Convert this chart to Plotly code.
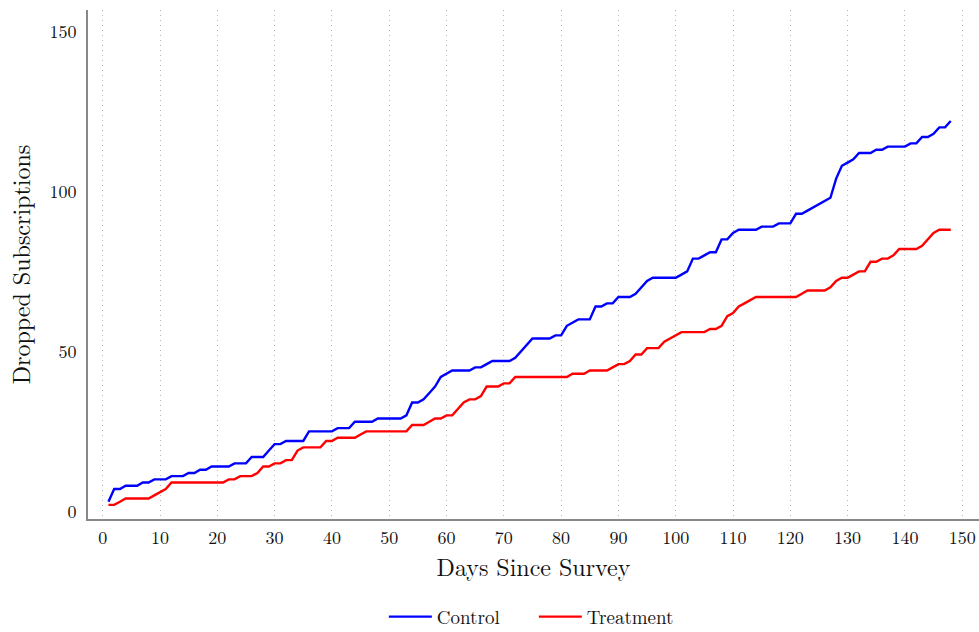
import plotly.graph_objects as go

# Cumulative dropped subscriptions per day after the survey
days = list(range(1, 149))

control = [
    3, 7, 7, 8, 8, 8, 9, 9, 10, 10,
    10, 11, 11, 11, 12, 12, 13, 13, 14, 14,
    14, 14, 15, 15, 15, 17, 17, 17, 19, 21,
    21, 22, 22, 22, 22, 25, 25, 25, 25, 25,
    26, 26, 26, 28, 28, 28, 28, 29, 29, 29,
    29, 29, 30, 34, 34, 35, 37, 39, 42, 43,
    44, 44, 44, 44, 45, 45, 46, 47, 47, 47,
    47, 48, 50, 52, 54, 54, 54, 54, 55, 55,
    58, 59, 60, 60, 60, 64, 64, 65, 65, 67,
    67, 67, 68, 70, 72, 73, 73, 73, 73, 73,
    74, 75, 79, 79, 80, 81, 81, 85, 85, 87,
    88, 88, 88, 88, 89, 89, 89, 90, 90, 90,
    93, 93, 94, 95, 96, 97, 98, 104, 108, 109,
    110, 112, 112, 112, 113, 113, 114, 114, 114, 114,
    115, 115, 117, 117, 118, 120, 120, 122,
]

treatment = [
    2, 2, 3, 4, 4, 4, 4, 4, 5, 6,
    7, 9, 9, 9, 9, 9, 9, 9, 9, 9,
    9, 10, 10, 11, 11, 11, 12, 14, 14, 15,
    15, 16, 16, 19, 20, 20, 20, 20, 22, 22,
    23, 23, 23, 23, 24, 25, 25, 25, 25, 25,
    25, 25, 25, 27, 27, 27, 28, 29, 29, 30,
    30, 32, 34, 35, 35, 36, 39, 39, 39, 40,
    40, 42, 42, 42, 42, 42, 42, 42, 42, 42,
    42, 43, 43, 43, 44, 44, 44, 44, 45, 46,
    46, 47, 49, 49, 51, 51, 51, 53, 54, 55,
    56, 56, 56, 56, 56, 57, 57, 58, 61, 62,
    64, 65, 66, 67, 67, 67, 67, 67, 67, 67,
    67, 68, 69, 69, 69, 69, 70, 72, 73, 73,
    74, 75, 75, 78, 78, 79, 79, 80, 82, 82,
    82, 82, 83, 85, 87, 88, 88, 88,
]

x_ticks = list(range(0, 151, 10))
y_ticks = [0, 50, 100, 150]

FONT = "Latin Modern Roman, CMU Serif, Liberation Serif, serif"

fig = go.Figure()
fig.add_trace(go.Scatter(x=days, y=control, mode="lines", name="Control",
                         line=dict(color="#0000ff", width=2.4)))
fig.add_trace(go.Scatter(x=days, y=treatment, mode="lines", name="Treatment",
                         line=dict(color="#ff0000", width=2.4)))

fig.update_layout(
    width=979, height=632,
    margin=dict(l=88, r=0, t=10, b=113, autoexpand=False),
    paper_bgcolor="white", plot_bgcolor="white",
    font=dict(family=FONT, color="#111111", size=18),
    showlegend=True,
    legend=dict(orientation="h", x=0.5004, xanchor="center", y=-0.2294, yanchor="bottom",
                font=dict(size=19), itemwidth=43, entrywidth=92,
                bgcolor="rgba(0,0,0,0)"),
)

fig.update_xaxes(
    range=[-2.57, 152.93], tickmode="array", tickvals=x_ticks,
    showgrid=True, gridcolor="#b4b4b4", griddash="1px,4px", gridwidth=1,
    zeroline=False, showline=True, linecolor="#888888", linewidth=2,
    ticks="", ticklabelstandoff=1,
    tickfont=dict(size=18),
    title=dict(text="Days Since Survey", font=dict(size=24), standoff=0),
)
fig.update_yaxes(
    range=[-2.4, 156.7], tickmode="array", tickvals=y_ticks,
    showgrid=False, zeroline=False, showline=True, linecolor="#888888", linewidth=2,
    ticks="", ticklabelstandoff=6,
    tickfont=dict(size=18),
    title=dict(text="Dropped Subscriptions", font=dict(size=24), standoff=12),
)

fig.write_html("out.html")
